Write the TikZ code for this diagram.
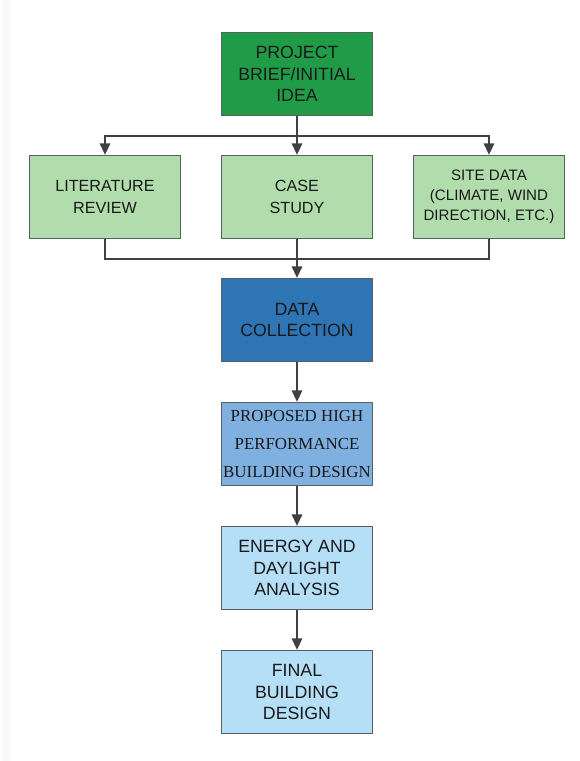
\documentclass[tikz,border=0pt]{standalone}
\usepackage{fontspec}
\setmainfont{Liberation Sans}
\newfontfamily\timesfont{Liberation Serif}
\usepackage{tikz}
\usetikzlibrary{arrows.meta}

\definecolor{darkgreen}{RGB}{32,156,72}
\definecolor{palegreen}{RGB}{177,220,171}
\definecolor{midblue}{RGB}{46,117,182}
\definecolor{softblue}{RGB}{127,176,224}
\definecolor{paleblue}{RGB}{180,223,247}
\definecolor{edgegray}{RGB}{88,96,100}

\tikzset{
  box/.style={draw=edgegray, line width=0.8pt, minimum width=3.02cm, minimum height=1.66cm,
              inner sep=1pt, align=center, text=black!90,
              font=\fontsize{10.1}{12.4}\selectfont},
  link/.style={draw=black!75, line width=0.7pt},
  >={Triangle[length=6.5pt,width=6pt]}
}

\begin{document}
\begin{tikzpicture}[x=0.02cm,y=-0.02cm]
    % 页面范围
    \useasboundingbox (0,0) rectangle (579,761);
    \fill[gray!5] (2,0) rectangle (11,761);

    % 方框
    \node[box, fill=darkgreen] (brief) at (297,74) {PROJECT\\BRIEF/INITIAL\\IDEA};
    \node[box, fill=palegreen, font=\fontsize{9.2}{12.4}\selectfont] (review) at (105,197) {LITERATURE\\REVIEW};
    \node[box, fill=palegreen, font=\fontsize{9.2}{12.4}\selectfont] (casestudy) at (297,197) {CASE\\STUDY};
    \node[box, fill=palegreen, font=\fontsize{8.6}{11.4}\selectfont] (sitedata) at (489,197) {SITE DATA\\(CLIMATE, WIND\\DIRECTION, ETC.)};
    \node[box, fill=midblue] (collection) at (297,320) {DATA\\COLLECTION};
    \node[box, fill=softblue, font=\timesfont\fontsize{9.6}{15.9}\selectfont] (proposed) at (297,444) {PROPOSED HIGH\\PERFORMANCE\\BUILDING DESIGN};
    \node[box, fill=paleblue] (analysis) at (297,568) {ENERGY AND\\DAYLIGHT\\ANALYSIS};
    \node[box, fill=paleblue] (final) at (297,692) {FINAL\\BUILDING\\DESIGN};

    % 分支与汇合
    \coordinate (split) at (297,136);
    \coordinate (join) at (297,259);

    \draw[link,->] (brief) -- (casestudy);
    \draw[link,->] (split) -| (review.north);
    \draw[link,->] (split) -| (sitedata.north);

    \draw[link] (review.south) |- (join);
    \draw[link] (sitedata.south) |- (join);
    \draw[link,->] (casestudy) -- (collection);

    \draw[link,->] (collection) -- (proposed);
    \draw[link,->] (proposed) -- (analysis);
    \draw[link,->] (analysis) -- (final);

\end{tikzpicture}
\end{document}
